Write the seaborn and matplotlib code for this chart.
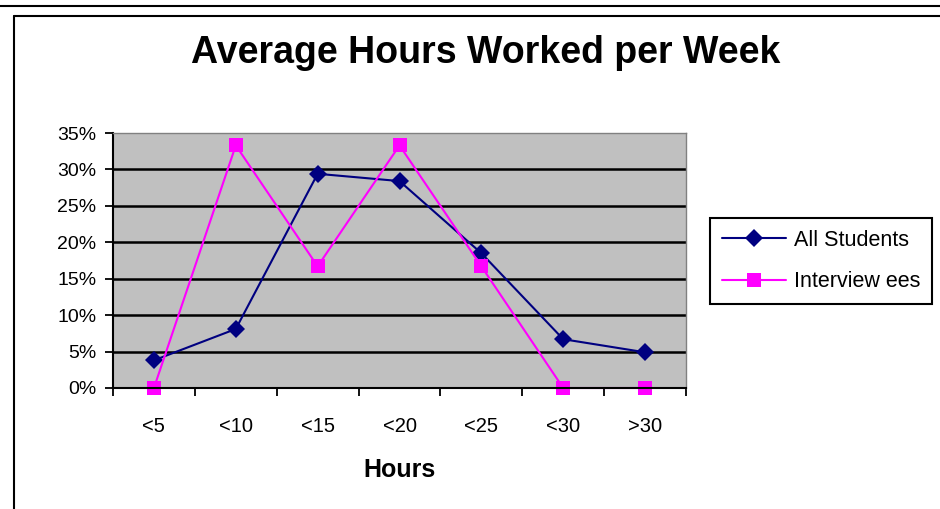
import numpy as np
import pandas as pd
import seaborn as sns
import matplotlib.pyplot as plt
from matplotlib.lines import Line2D
from matplotlib.ticker import PercentFormatter

# data
hours = ['<5', '<10', '<15', '<20', '<25', '<30', '>30']
all_students = [0.038, 0.081, 0.294, 0.284, 0.185, 0.067, 0.049]
interviewees = [0.0, 0.333, 0.167, 0.333, 0.167, 0.0, 0.0]

sns.set_theme(style='ticks')
plt.rcParams['font.family'] = ['Liberation Sans', 'DejaVu Sans']

fig = plt.figure(figsize=(9.4, 5.09), dpi=100)
ax = fig.add_axes([113/940, 1-388/509, (686-113)/940, (388-133)/509])
ax.set_facecolor('#C0C0C0')

pos = np.arange(len(hours))
sns.lineplot(x=pos, y=all_students, color='#000080', marker='D', markersize=9.5,
             markeredgewidth=0, lw=1.5, label='All Students', ax=ax, clip_on=False)
sns.lineplot(x=pos, y=interviewees, color='#FF00FF', marker='s', markersize=10,
             markeredgewidth=0, lw=1.5, label='Interview ees', ax=ax, clip_on=False)

ax.set_xlim(-0.5, len(hours)-0.5)
ax.set_ylim(0, 0.35)
ax.set_yticks(np.arange(0, 0.351, 0.05))
ax.yaxis.set_major_formatter(PercentFormatter(1.0, decimals=0))
ax.set_xticks(np.arange(-0.5, len(hours), 1.0))
ax.set_xticklabels([])
ax.set_xticks(pos, minor=True)
ax.set_xticklabels(hours, minor=True)
ax.tick_params(axis='x', which='major', length=6, width=1.3, color='black', direction='out')
ax.tick_params(axis='x', which='minor', length=0, pad=21, labelsize=14.5)
ax.tick_params(axis='y', length=6, width=1.3, color='black', pad=6, labelsize=14)
for lab in ax.get_yticklabels() + ax.get_xticklabels(minor=True):
    lab.set_color('black')

ax.grid(axis='y', color='black', lw=1.8)
ax.yaxis.get_gridlines()[-1].set_visible(False)
ax.set_axisbelow(True)

for s in ['left', 'bottom']:
    ax.spines[s].set_color('black')
    ax.spines[s].set_linewidth(1.5)
for s in ['top', 'right']:
    ax.spines[s].set_color('#808080')
    ax.spines[s].set_linewidth(1.0)

ax.set_xlabel('Hours', fontsize=18, fontweight='bold', labelpad=16, color='black')
ax.set_ylabel('')

fig.text(0.517, 1-53/509, 'Average Hours Worked per Week', ha='center', va='center',
         fontsize=27, fontweight='bold', color='black')

leg = ax.legend(loc='upper left', bbox_to_anchor=(710/940, 1-218/509),
                bbox_transform=fig.transFigure, fontsize=15.5, frameon=True,
                fancybox=False, edgecolor='black', framealpha=1, handlelength=3.0,
                handletextpad=0.35, labelspacing=0.95, borderpad=0.55, borderaxespad=0)
leg.get_frame().set_linewidth(1.5)
for t in leg.get_texts():
    t.set_color('black')

# outer chart frame
fig.add_artist(Line2D([0, 1], [1-6/509, 1-6/509], color='black', lw=1.5, transform=fig.transFigure))
fig.add_artist(Line2D([14/940, 1], [1-16/509, 1-16/509], color='black', lw=1.5, transform=fig.transFigure))
fig.add_artist(Line2D([14/940, 14/940], [0, 1-16/509], color='black', lw=1.5, transform=fig.transFigure))

fig.savefig('out.png', dpi=100)
